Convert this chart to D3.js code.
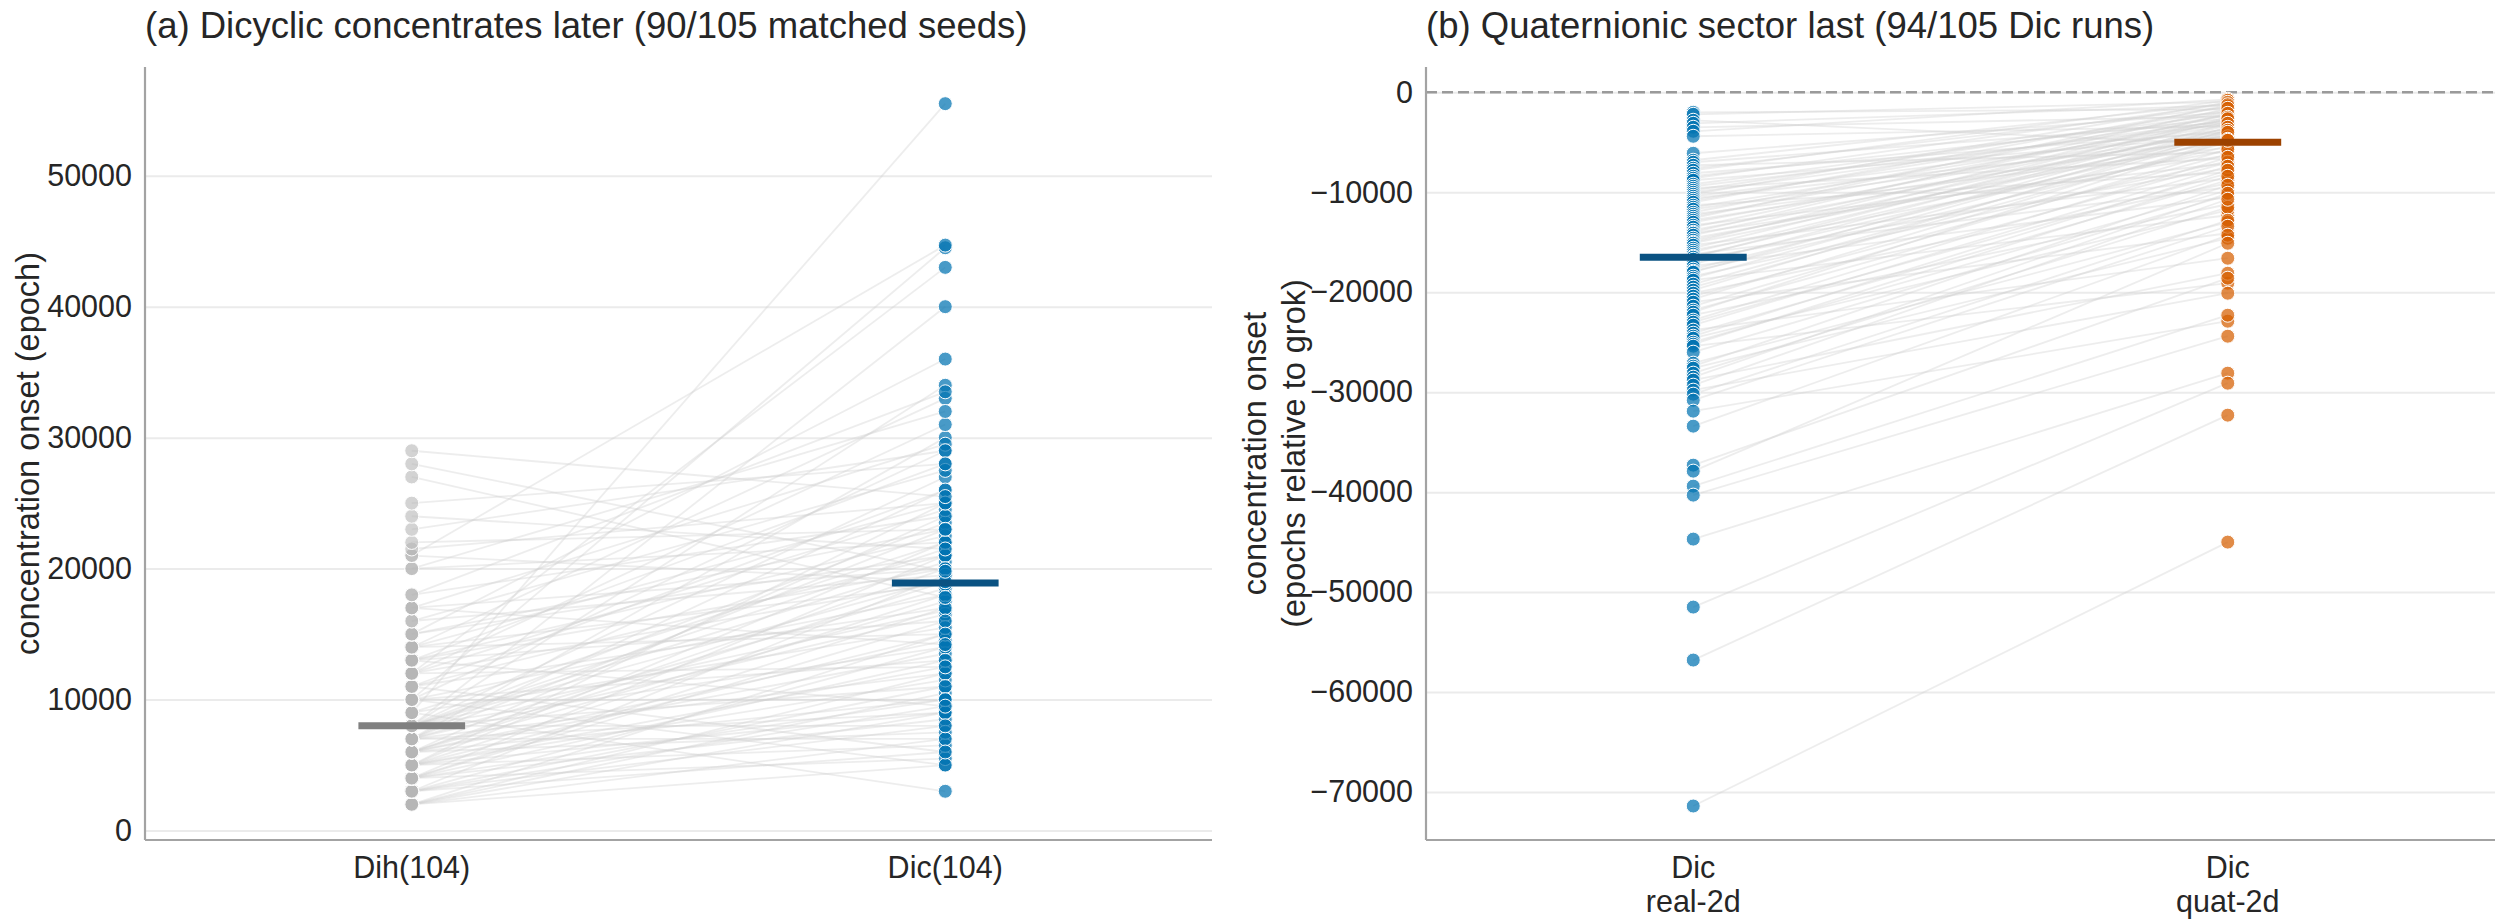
<!DOCTYPE html>
<html><head><meta charset="utf-8">
<script src="https://cdn.jsdelivr.net/npm/d3@7"></script>
<style>
body{margin:0;background:#fff}
svg{display:block}
text{font-family:"Liberation Sans",Arial,Helvetica,sans-serif;fill:#262626}
</style>
</head><body>
<svg id="chart" width="2500" height="919"></svg>
<script>
// ---------- Panel (a) data: paired seeds ----------
const panelATitle = "(a) Dicyclic concentrates later (90/105 matched seeds)";
const panelACategories = ["Dih(104)", "Dic(104)"];
const panelAYLabel = ["concentration onset (epoch)"];
const panelATicks = [0, 10000, 20000, 30000, 40000, 50000];
const dihOnset = [
  2000,2000,2000,2000,2000,2000,
  3000,3000,3000,3000,3000,3000,
  4000,4000,4000,4000,4000,4000,4000,
  5000,5000,5000,5000,5000,5000,5000,5000,
  6000,6000,6000,6000,6000,6000,6000,6000,
  7000,7000,7000,7000,7000,7000,7000,7000,
  8000,8000,8000,8000,8000,8000,8000,8000,8000,8000,8000,
  9000,9000,9000,9000,
  10000,10000,10000,10000,10000,10000,
  11000,11000,11000,11000,
  12000,12000,12000,12000,12000,
  13000,13000,13000,13000,13000,
  14000,14000,14000,14000,
  15000,15000,15000,
  16000,16000,
  17000,17000,17000,
  18000,18000,
  20000,20000,
  21000,21000,
  21500,22000,23000,24000,25000,27000,28000,29000
];
const dicOnset = [
  5000,9000,12000,7000,15000,10500,
  6000,11000,8000,14000,19500,9500,
  5500,13000,17000,10000,21000,8500,16000,
  12500,6500,18000,9000,15000,22000,11500,25000,
  7500,14500,20000,10000,24000,13500,17500,19000,
  9000,16500,23000,12000,26000,18500,30000,7000,
  11000,20500,14000,27000,16800,23500,19200,34000,8000,21500,40000,
  55500,15500,22000,3000,
  10000,5000,18000,29000,13000,44500,
  21000,17000,26000,6000,
  19000,31000,12500,24500,43000,
  22500,16000,28000,20000,9500,
  25000,18800,33000,15000,
  23000,36000,21000,
  27500,19500,
  29500,20000,14200,
  24000,33500,
  32000,22000,
  44700,19000,
  25000,23000,29000,21500,28000,17800,19800,25500
];

// ---------- Panel (b) data: Dic runs relative to grok ----------
const panelBTitle = "(b) Quaternionic sector last (94/105 Dic runs)";
const panelBCategories = [["Dic", "real-2d"], ["Dic", "quat-2d"]];
const panelBYLabel = ["concentration onset", "(epochs relative to grok)"];
const panelBTicks = [0, -10000, -20000, -30000, -40000, -50000, -60000, -70000];
const real2d = [
  -2000,-2200,-2800,-3100,-3500,-3900,-4400,-6100,-6800,-7000,-7300,-7600,-7800,-8100,-8400,
  -8600,-8800,-9200,-9400,-9600,-9800,-10000,-10200,-10400,-10600,-10800,-11000,-11300,-11500,-11700,
  -12000,-12200,-12400,-12600,-12800,-13000,-13300,-13500,-13800,-14000,-14100,-14300,-14600,-14800,-15000,
  -15100,-15300,-15600,-15800,-16000,-16200,-16400,-16500,-16700,-17000,-17200,-17400,-17700,-17900,-18000,
  -18400,-18600,-18800,-19200,-19500,-19800,-20100,-20400,-20700,-21000,-21400,-21800,-22000,-22300,-22800,
  -23000,-23300,-23800,-24100,-24400,-24600,-25000,-25200,-25400,-26000,-27100,-27400,-27600,-28100,-28500,
  -28800,-29300,-29800,-30200,-30800,-31900,-33400,-37300,-37900,-39400,-40300,-44700,-51500,-56800,-71400
];
const quat2d = [
  -1700,-950,-5200,-1300,-2400,-700,-3400,-2000,-1100,-3000,-6000,-1500,-800,-3950,-2600,
  -1150,-4400,-2150,-3150,-6600,-1800,-2800,-1000,-3700,-4750,-2300,-1400,-8000,-3050,-4100,
  -1900,-5500,-2700,-1250,-4500,-3200,-7100,-2250,-3850,-1600,-6300,-2900,-4900,-3600,-2100,
  -4300,-8600,-2500,-5800,-3300,-9500,-3900,-2650,-7600,-4600,-3100,-10500,-4200,-5400,-3500,
  -6900,-3800,-12300,-4450,-5000,-4000,-9100,-6200,-4700,-14100,-5700,-7000,-4800,-11200,-6500,
  -8100,-7400,-16600,-8800,-7800,-11800,-9800,-8400,-19100,-10300,-13000,-9300,-14600,-11500,-10100,
  -18100,-10700,-20100,-12800,-13400,-22900,-14300,-18600,-15100,-22300,-24400,-28100,-29100,-32300,-45000
];

// ---------- drawing ----------
const svg = d3.select("#chart");
const TOP = 67, BOTTOM = 840;

function drawPanel(cfg) {
  const x = d3.scaleLinear().domain([-0.5, 1.5]).range([cfg.left, cfg.right]);
  const y = d3.scaleLinear().domain(cfg.yDomain).range([BOTTOM, TOP]);
  const g = svg.append("g");

  // y axis with grid
  const ya = g.append("g").attr("transform", `translate(${cfg.left},0)`)
    .call(d3.axisLeft(y).tickValues(cfg.ticks).tickSize(-(cfg.right - cfg.left))
      .tickPadding(13).tickFormat(d3.format("d")));
  ya.select(".domain").remove();
  ya.selectAll(".tick line").attr("stroke", "#ebebeb").attr("stroke-width", 2);
  ya.selectAll(".tick text").attr("font-size", 30.5).attr("fill", "#262626")
    .style("font-family", '"Liberation Sans",Arial,sans-serif');

  if (cfg.zeroLine) {
    g.append("line").attr("x1", cfg.left).attr("x2", cfg.right)
      .attr("y1", y(0)).attr("y2", y(0))
      .attr("stroke", "#9a9a9a").attr("stroke-width", 2.5).attr("stroke-dasharray", "11,5");
  }

  // paired connecting lines
  const pairs = d3.zip(cfg.a, cfg.b);
  g.append("g").selectAll("line").data(pairs).join("line")
    .attr("x1", x(0)).attr("x2", x(1))
    .attr("y1", d => y(d[0])).attr("y2", d => y(d[1]))
    .attr("stroke", "#cfcfcf").attr("stroke-opacity", 0.38).attr("stroke-width", 1.8);

  // points
  [[cfg.a, 0, cfg.colA], [cfg.b, 1, cfg.colB]].forEach(([vals, c, col]) => {
    g.append("g").selectAll("circle").data(vals).join("circle")
      .attr("cx", x(c)).attr("cy", d => y(d)).attr("r", 7)
      .attr("fill", col).attr("fill-opacity", cfg.alpha[c])
      .attr("stroke", "#ffffff").attr("stroke-width", 1);
  });

  // medians
  [[cfg.a, 0, cfg.medA], [cfg.b, 1, cfg.medB]].forEach(([vals, c, col]) => {
    const m = d3.median(vals);
    g.append("line").attr("x1", x(c - 0.1)).attr("x2", x(c + 0.1))
      .attr("y1", y(m)).attr("y2", y(m))
      .attr("stroke", col).attr("stroke-width", 7);
  });

  // x axis labels
  const xa = g.append("g").attr("transform", `translate(0,${BOTTOM})`)
    .call(d3.axisBottom(x).tickValues([0, 1]).tickSize(0).tickFormat(""));
  xa.select(".domain").remove();
  cfg.cats.forEach((lab, i) => {
    const lines = Array.isArray(lab) ? lab : [lab];
    const t = g.append("text").attr("text-anchor", "middle").attr("font-size", 30.5);
    lines.forEach((ln, k) => t.append("tspan").attr("x", x(i)).attr("y", 878 + k * 34).text(ln));
  });

  // spines
  g.append("line").attr("x1", cfg.left).attr("x2", cfg.left).attr("y1", TOP).attr("y2", BOTTOM)
    .attr("stroke", "#a3a3a3").attr("stroke-width", 2.2);
  g.append("line").attr("x1", cfg.left).attr("x2", cfg.right).attr("y1", BOTTOM).attr("y2", BOTTOM)
    .attr("stroke", "#a3a3a3").attr("stroke-width", 2.2);

  // title
  g.append("text").attr("x", cfg.left).attr("y", 38).attr("font-size", 36.5).text(cfg.title);

  // y label
  const cy = (TOP + BOTTOM) / 2;
  cfg.yLabel.forEach((ln, k) => {
    const bx = cfg.yLabelX + k * 39;
    g.append("text").attr("transform", `translate(${bx},${cy}) rotate(-90)`)
      .attr("text-anchor", "middle").attr("font-size", 32.5).text(ln);
  });
}

drawPanel({
  left: 145, right: 1212, yDomain: [-720, 58300], ticks: panelATicks,
  a: dihOnset, b: dicOnset, colA: "#b5b5b5", colB: "#0173b2", alpha: [0.6, 0.72],
  medA: "#808080", medB: "#0a5282", cats: panelACategories,
  title: panelATitle, yLabel: panelAYLabel, yLabelX: 39, zeroLine: false
});
drawPanel({
  left: 1426, right: 2495, yDomain: [-74800, 2530], ticks: panelBTicks,
  a: real2d, b: quat2d, colA: "#0173b2", colB: "#d55e00", alpha: [0.72, 0.72],
  medA: "#0a5282", medB: "#9c4200", cats: panelBCategories,
  title: panelBTitle, yLabel: panelBYLabel, yLabelX: 1266, zeroLine: true
});
</script>
</body></html>
